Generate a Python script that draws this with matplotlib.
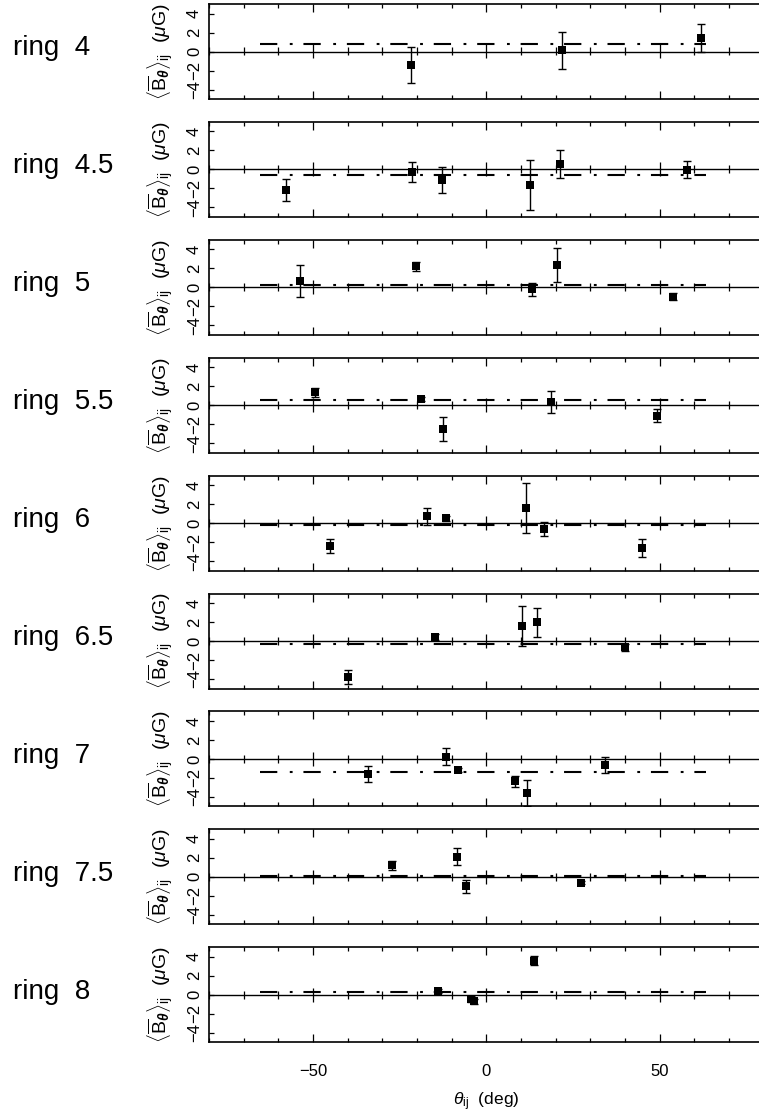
import matplotlib
matplotlib.use("Agg")
import matplotlib.pyplot as plt
from matplotlib.ticker import MultipleLocator, FixedLocator

plt.rcParams['font.family'] = ['Liberation Sans', 'DejaVu Sans']
plt.rcParams['mathtext.fontset'] = 'custom'
plt.rcParams['mathtext.rm'] = 'Liberation Sans'
plt.rcParams['mathtext.it'] = 'Liberation Sans:italic'
plt.rcParams['mathtext.bf'] = 'Liberation Sans:bold:italic'

# ring labels
rings = ["4", "4.5", "5", "5.5", "6", "6.5", "7", "7.5", "8"]

# azimuthal angle of each sector (deg), mean field and error (muG)
theta = [
    [-21.6, 21.8, 62.0],
    [-57.9, -21.3, -12.7, 12.5, 21.3, 57.9],
    [-53.8, -20.2, 13.1, 20.3, 53.9],
    [-49.5, -18.8, -12.5, 18.6, 49.4],
    [-45.0, -17.0, -11.6, 11.5, 16.8, 44.9],
    [-39.9, -14.8, 10.2, 14.5, 40.0],
    [-34.0, -11.7, -8.2, 8.2, 11.7, 34.2],
    [-27.3, -8.5, -5.9, 27.3],
    [-13.9, -4.5, -3.4, 13.8],
]
b_theta = [
    [-1.45, 0.15, 1.45],
    [-2.2, -0.3, -1.1, -1.65, 0.55, -0.05],
    [0.7, 2.2, -0.2, 2.35, -1.0],
    [1.35, 0.65, -2.5, 0.35, -1.1],
    [-2.4, 0.7, 0.5, 1.6, -0.65, -2.65],
    [-3.8, 0.4, 1.55, 1.95, -0.65],
    [-1.55, 0.25, -1.2, -2.35, -3.6, -0.6],
    [1.2, 2.1, -1.0, -0.6],
    [0.35, -0.45, -0.7, 3.6],
]
b_err = [
    [1.9, 1.95, 1.45],
    [1.15, 1.05, 1.35, 2.65, 1.45, 0.9],
    [1.7, 0.5, 0.7, 1.75, 0.35],
    [0.45, 0.25, 1.25, 1.15, 0.65],
    [0.7, 0.9, 0.3, 2.6, 0.75, 0.93],
    [0.7, 0.3, 2.1, 1.5, 0.35],
    [0.85, 0.9, 0.2, 0.6, 1.35, 0.85],
    [0.45, 0.9, 0.7, 0.2],
    [0.2, 0.3, 0.3, 0.5],
]
# ring-averaged field and the azimuth range it covers
ring_mean = [0.74, -0.57, 0.25, 0.53, -0.25, -0.35, -1.4, 0.05, 0.32]
mean_range = (-65.3, 63.5)

xticks = [-50, 0, 50]
yticks = [-4, -2, 0, 2, 4]

W, H = 759, 1116
fig = plt.figure(figsize=(W / 100, H / 100), dpi=100)

left_px, width_px = 209, 554.5
top0_px, step_px, height_px = 4, 117.9, 95

for k, ring in enumerate(rings):
    top = top0_px + step_px * k
    ax = fig.add_axes([left_px / W, 1 - (top + height_px) / H,
                       width_px / W, height_px / H])
    ax.set_xlim(-80, 80)
    ax.set_ylim(-5, 5)

    ax.axhline(0, color='k', lw=1.0, zorder=2)
    ax.hlines(ring_mean[k], *mean_range, colors='k', lw=1.5,
              linestyles=[(0, (8.3, 6.0, 1.35, 5.2))], zorder=2)
    ax.errorbar(theta[k], b_theta[k], yerr=b_err[k], fmt='none',
                ecolor='k', elinewidth=1.0, capsize=3.2, capthick=1.0,
                zorder=3)
    ax.plot(theta[k], b_theta[k], 's', color='k', ms=6, mew=0, zorder=4)

    for sp in ax.spines.values():
        sp.set_linewidth(1.2)

    ax.xaxis.set_major_locator(FixedLocator(xticks))
    ax.xaxis.set_minor_locator(MultipleLocator(10))
    ax.yaxis.set_major_locator(FixedLocator(yticks))
    ax.tick_params(axis='x', which='both', direction='in', top=True,
                   bottom=True, width=0.9)
    ax.tick_params(axis='x', which='major', length=5.8)
    ax.tick_params(axis='x', which='minor', length=2.9)
    ax.tick_params(axis='y', which='major', direction='in', left=True,
                   right=True, length=3.4, width=0.9, labelsize=12,
                   labelrotation=90, pad=5)
    for lbl in ax.get_yticklabels():
        lbl.set_va('center')

    # tick marks along the zero line
    zx = ax.secondary_xaxis(0.5)
    zx.xaxis.set_major_locator(FixedLocator(xticks))
    zx.xaxis.set_minor_locator(MultipleLocator(10))
    zx.tick_params(which='both', direction='inout', labelbottom=False,
                   labeltop=False, width=0.9)
    zx.tick_params(which='major', length=10)
    zx.tick_params(which='minor', length=5.8)
    for sp in zx.spines.values():
        sp.set_visible(False)

    if k == len(rings) - 1:
        ax.tick_params(axis='x', which='major', labelsize=12, pad=16)
        ax.set_xlabel(r'$\theta_{\mathrm{ij}}$  (deg)', fontsize=12.5,
                      labelpad=8)
    else:
        ax.tick_params(axis='x', labelbottom=False)

    ax.text(-0.088, 0.5,
            r'$\langle\overline{\mathrm{B}}_{\mathbf{\theta}}\rangle_{\mathrm{ij}}$  ($\mu$G)',
            transform=ax.transAxes, rotation=90, ha='center', va='center',
            fontsize=14)
    ax.text(-0.354, 0.458, f"ring  {ring}", transform=ax.transAxes,
            ha='left', va='baseline', fontsize=20)

fig.savefig("out.png", dpi=100)
